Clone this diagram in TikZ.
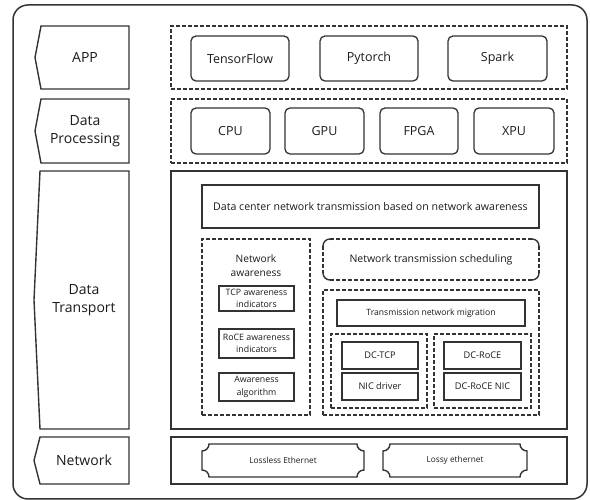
\documentclass[tikz,border=0pt]{standalone}
\usepackage{fontspec}
\setmainfont{Open Sans}
\definecolor{edge}{HTML}{333333}
\definecolor{ink}{HTML}{1A1A1A}
\begin{document}
\begin{tikzpicture}[x=1pt,y=1pt,
  every node/.style={text=ink, align=center, inner sep=0pt},
  frame/.style={draw=edge, line width=1.5pt},
  layerbox/.style={draw=edge, line width=1.4pt},
  groupbox/.style={draw=edge, line width=1.4pt, dash pattern=on 4pt off 2pt},
  appbox/.style={draw=edge, line width=1.3pt, rounded corners=5pt, font=\fontsize{12.5}{15}\selectfont},
  titlebox/.style={draw=edge, line width=2pt, font=\fontsize{10.6}{13}\selectfont},
  smallbox/.style={draw=edge, line width=1.7pt, font=\fontsize{8.8}{12.5}\selectfont},
  labeltext/.style={font=\fontsize{14}{18}\selectfont},
  tag/.style={draw=edge, line width=1.4pt},
  plaque/.style={draw=edge, line width=1.4pt},
]
% canvas
\useasboundingbox (0,0) rectangle (590,500);

% outer frame
\draw[frame, rounded corners=15pt] (13,1) rectangle (587,495);

% layer tags on the left
\draw[tag] (129,474) -- (41,474) -- (35,442.5) -- (41,411) -- (129,411) -- cycle;
\node[labeltext] (tapp) at (85,442.5) {APP};
\draw[tag] (129,401) -- (41,401) -- (35,369) -- (41,337) -- (129,337) -- cycle;
\node[labeltext] (tdp) at (85,369) {Data\\Processing};
\draw[tag] (129,329) -- (40,329) -- (34,200) -- (40,71) -- (129,71) -- cycle;
\node[labeltext] (tdt) at (84,200) {Data\\Transport};
\draw[tag] (129,63) -- (40,63) -- (34,39.5) -- (40,16) -- (129,16) -- cycle;
\node[labeltext] (tnet) at (84,39.5) {Network};

% application layer
\node[groupbox, minimum width=396, minimum height=63] (app) at (369,442.5) {};
\node[appbox, minimum width=98, minimum height=45] (tf) at (240,441.5) {TensorFlow};
\node[appbox, minimum width=98, minimum height=45] (pt) at (369,441.5) {Pytorch};
\node[appbox, minimum width=99, minimum height=45] (sp) at (497.5,441.5) {Spark};

% data processing layer
\node[groupbox, minimum width=396, minimum height=64] (dp) at (369,369) {};
\node[appbox, minimum width=79, minimum height=46] (cpu) at (230.5,369) {CPU};
\node[appbox, minimum width=79, minimum height=46] (gpu) at (324.5,369) {GPU};
\node[appbox, minimum width=78, minimum height=46] (fpga) at (419,369) {FPGA};
\node[appbox, minimum width=80, minimum height=46] (xpu) at (514,369) {XPU};

% data transport layer
\node[layerbox, minimum width=396, minimum height=258] (dt) at (369,200) {};
\node[titlebox, minimum width=337, minimum height=43] (title) at (370.5,293.5)
  {Data center network transmission based on network awareness};

% network awareness group
\node[groupbox, minimum width=108, minimum height=176] (na) at (256,173) {};
\node[font=\fontsize{10.2}{14}\selectfont] (natext) at (256,234) {Network\\awareness};
\node[smallbox, minimum width=75, minimum height=25] (tcpai) at (256.5,201.5) {TCP awareness\\indicators};
\node[smallbox, minimum width=75, minimum height=29] (roceai) at (256.5,156.5) {RoCE awareness\\indicators};
\node[smallbox, minimum width=75, minimum height=28] (alg) at (256.5,113) {Awareness\\algorithm};

% transmission scheduling: dashed sides with rounded corners
\draw[groupbox] (330,261) -- (532,261);
\draw[groupbox] (330,220) -- (532,220);
\draw[groupbox] (323,254) -- (323,227);
\draw[groupbox] (539,254) -- (539,227);
\draw[draw=edge, line width=1.4pt] (323,254) arc[start angle=180, end angle=90, radius=7];
\draw[draw=edge, line width=1.4pt] (532,261) arc[start angle=90, end angle=0, radius=7];
\draw[draw=edge, line width=1.4pt] (539,227) arc[start angle=0, end angle=-90, radius=7];
\draw[draw=edge, line width=1.4pt] (330,220) arc[start angle=270, end angle=180, radius=7];
\node[font=\fontsize{10.5}{13}\selectfont] (sched) at (431,240.5) {Network transmission scheduling};

\node[groupbox, minimum width=216, minimum height=125] (migr) at (431,147.5) {};
\node[smallbox, minimum width=188, minimum height=26, font=\fontsize{8.6}{11}\selectfont] (trans) at (431,187) {Transmission network migration};
\node[groupbox, minimum width=96, minimum height=74] (tcpgrp) at (379,129) {};
\node[smallbox, minimum width=76, minimum height=27, font=\fontsize{9.2}{11}\selectfont] (dctcp) at (380,144.5) {DC-TCP};
\node[smallbox, minimum width=76, minimum height=27, font=\fontsize{9.2}{11}\selectfont] (nic) at (380,113.5) {NIC driver};
\node[groupbox, minimum width=97, minimum height=74] (rocegrp) at (482.5,129) {};
\node[smallbox, minimum width=77, minimum height=27, font=\fontsize{9.2}{11}\selectfont] (dcroce) at (482.5,144.5) {DC-RoCE};
\node[smallbox, minimum width=77, minimum height=27, font=\fontsize{9.2}{11}\selectfont] (roceni) at (482.5,113.5) {DC-RoCE NIC};

% network layer
\node[layerbox, minimum width=396, minimum height=47] (net) at (369,39.5) {};
\draw[plaque] (209,56) -- (357,56) arc[start angle=180, end angle=270, radius=7]
  -- (364,30) arc[start angle=90, end angle=180, radius=7]
  -- (209,23) arc[start angle=0, end angle=90, radius=7]
  -- (202,49) arc[start angle=270, end angle=360, radius=7] -- cycle;
\node[font=\fontsize{8.3}{10}\selectfont] (lossless) at (283,39.5) {Lossless Ethernet};
\draw[plaque] (390,56) -- (520,56) arc[start angle=180, end angle=270, radius=7]
  -- (527,30) arc[start angle=90, end angle=180, radius=7]
  -- (390,23) arc[start angle=0, end angle=90, radius=7]
  -- (383,49) arc[start angle=270, end angle=360, radius=7] -- cycle;
\node[font=\fontsize{8.3}{10}\selectfont] (lossy) at (455,39.5) {Lossy ethernet};
\end{tikzpicture}
\end{document}
